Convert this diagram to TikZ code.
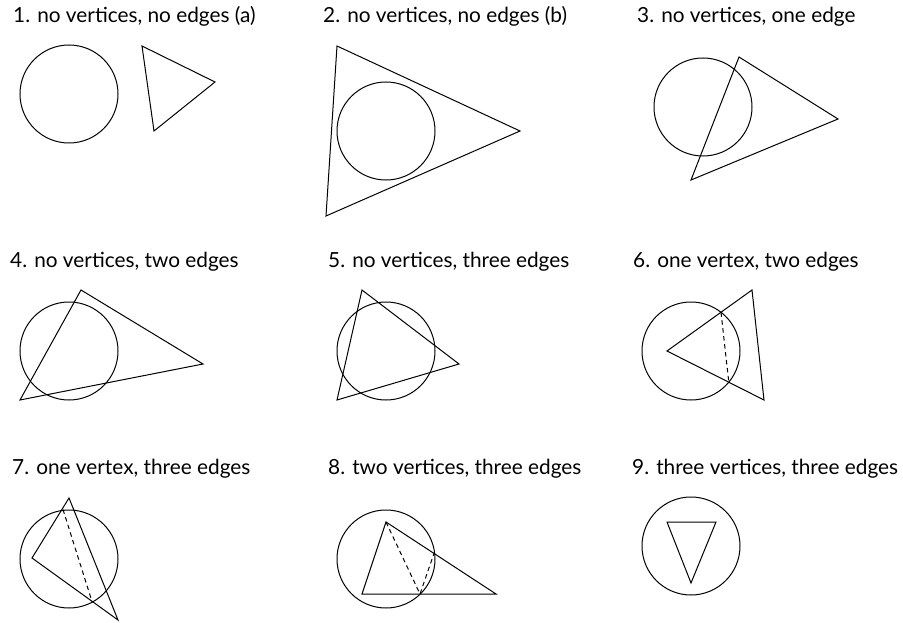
\documentclass[tikz,border=0pt]{standalone}
\usepackage{fontspec}
\setmainfont{Lato}
\begin{document}
\begin{tikzpicture}[x=1pt,y=-1pt,
  outline/.style={line width=1pt, line join=miter},
  hidden/.style={line width=1pt, dash pattern=on 4.5pt off 3.5pt},
  ttl/.style={anchor=base west, inner sep=0pt, font=\fontsize{20.8}{22}\selectfont}]
\useasboundingbox[fill=white] (0,0) rectangle (903,623);
% titles
\node[ttl] (t1) at (13,23) {1. no vertices, no edges (a)};
\node[ttl] (t2) at (323,23) {2. no vertices, no edges (b)};
\node[ttl] (t3) at (637,23) {3. no vertices, one edge};
\node[ttl] (t4) at (10,267) {4. no vertices, two edges};
\node[ttl] (t5) at (328,267) {5. no vertices, three edges};
\node[ttl] (t6) at (633,267) {6. one vertex, two edges};
\node[ttl] (t7) at (12,474) {7. one vertex, three edges};
\node[ttl] (t8) at (328,474) {8. two vertices, three edges};
\node[ttl] (t9) at (632,474) {9. three vertices, three edges};
% 1
\draw[outline] (69,94) circle[radius=49];
\draw[outline] (142,46) -- (215,82) -- (154,131) -- cycle;
% 2
\draw[outline] (386,131) circle[radius=49];
\draw[outline] (337,46) -- (520,131) -- (326,216) -- cycle;
% 3
\draw[outline] (703,107) circle[radius=49];
\draw[outline] (739,57) -- (838,119) -- (691,180) -- cycle;
% 4
\draw[outline] (69,351) circle[radius=49];
\draw[outline] (81,290) -- (203,364) -- (20,400) -- cycle;
% 5
\draw[outline] (386,351) circle[radius=49];
\draw[outline] (362,290) -- (459,364) -- (337,400) -- cycle;
% 6
\draw[outline] (691,351) circle[radius=49];
\draw[outline] (752,290) -- (667,351) -- (764,400) -- cycle;
\coordinate (p6a) at (721.0,312.3);
\coordinate (p6b) at (728.8,382.2);
\draw[hidden] (p6a) -- (p6b);
% 7
\draw[outline] (69,559) circle[radius=49];
\draw[outline] (69,498) -- (32,558) -- (118,620) -- cycle;
\coordinate (p7a) at (63,509.5);
\coordinate (p7b) at (92,601.5);
\draw[hidden] (p7a) -- (p7b);
% 8
\draw[outline] (386,559) circle[radius=49];
\draw[outline] (386,522) -- (496,594) -- (362,594) -- cycle;
\coordinate (v8) at (386,522);
\coordinate (p8a) at (420,594);
\coordinate (p8b) at (434,553.4);
\draw[hidden] (v8) -- (p8a) -- (p8b);
% 9
\draw[outline] (691,546) circle[radius=49];
\draw[outline] (667,522) -- (716,522) -- (691,583) -- cycle;
\end{tikzpicture}
\end{document}
